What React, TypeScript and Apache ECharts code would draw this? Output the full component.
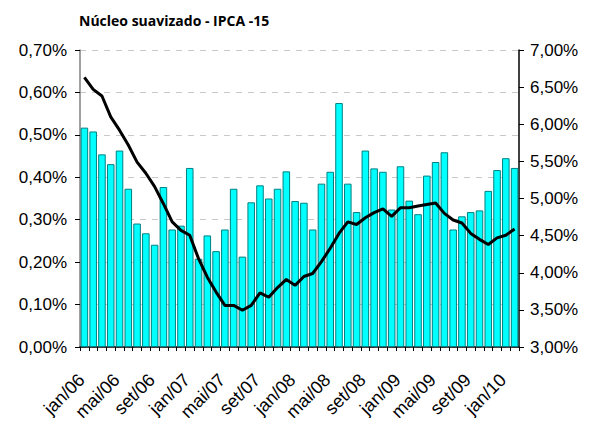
import React, { useEffect, useRef } from "react";
import * as echarts from "echarts";

const monthNames = ["jan", "fev", "mar", "abr", "mai", "jun", "jul", "ago", "set", "out", "nov", "dez"];
const startYear = 2006;
const monthCount = 50;
const categories: string[] = Array.from({ length: monthCount }, (_, i) =>
  `${monthNames[i % 12]}/${String((startYear + Math.floor(i / 12)) % 100).padStart(2, "0")}`
);

const coreMonthly = [
  0.517, 0.508, 0.454, 0.431, 0.463, 0.373, 0.291, 0.268, 0.241, 0.377,
  0.277, 0.286, 0.422, 0.208, 0.263, 0.226, 0.277, 0.373, 0.213, 0.341,
  0.381, 0.350, 0.373, 0.414, 0.344, 0.340, 0.277, 0.385, 0.413, 0.575,
  0.385, 0.318, 0.463, 0.421, 0.413, 0.324, 0.426, 0.345, 0.313, 0.404,
  0.436, 0.459, 0.277, 0.308, 0.318, 0.322, 0.368, 0.417, 0.445, 0.422,
];

const core12m = [
  6.63, 6.47, 6.38, 6.10, 5.92, 5.72, 5.49, 5.34, 5.16, 4.93,
  4.685, 4.57, 4.505, 4.19, 3.94, 3.74, 3.56, 3.56, 3.495, 3.56,
  3.73, 3.67, 3.80, 3.91, 3.83, 3.95, 3.99, 4.15, 4.33, 4.53,
  4.685, 4.65, 4.74, 4.81, 4.86, 4.76, 4.875, 4.875, 4.90, 4.92,
  4.94, 4.80, 4.71, 4.67, 4.53, 4.45, 4.38, 4.47, 4.505, 4.59,
];

const title = "Núcleo suavizado - IPCA -15";

const fmt = (v: number) => v.toFixed(2).replace(".", ",") + "%";

export default function App() {
  const ref = useRef<HTMLDivElement>(null);
  useEffect(() => {
    if (!ref.current) return;
    const chart = echarts.init(ref.current, null, { renderer: "svg" });
    chart.setOption({
      animation: false,
      backgroundColor: "#ffffff",
      title: {
        text: title,
        left: 74,
        top: 8,
        textStyle: { fontFamily: "Open Sans", fontWeight: "bold", fontSize: 14, color: "#000" },
      },
      grid: {
        left: 80,
        right: 72,
        top: 50,
        bottom: 79,
        containLabel: false,
        outerBoundsMode: "none",
      },
      xAxis: {
        type: "category",
        data: categories,
        boundaryGap: true,
        axisLine: { lineStyle: { color: "#000", width: 1.5 } },
        axisTick: { show: true, interval: 0, length: 4, lineStyle: { color: "#000" } },
        axisLabel: {
          interval: 3,
          rotate: 45,
          fontFamily: "Liberation Sans",
          fontSize: 18,
          color: "#000",
          margin: 27,
          padding: [0, 4, 0, 0],
        },
      },
      yAxis: [
        {
          type: "value",
          min: 0,
          max: 0.7,
          interval: 0.1,
          position: "left",
          axisLine: { show: true, lineStyle: { color: "#808080", width: 1.5 } },
          axisTick: { show: true, length: 5, lineStyle: { color: "#000" } },
          splitLine: { show: true, lineStyle: { color: "#c8c8c8", type: [6, 6] } },
          axisLabel: {
            formatter: (v: number) => fmt(v),
            fontFamily: "Liberation Sans",
            fontSize: 17,
            color: "#000",
            margin: 13,
          },
        },
        {
          type: "value",
          min: 3,
          max: 7,
          interval: 0.5,
          position: "right",
          axisLine: { show: true, lineStyle: { color: "#000", width: 1.5 } },
          axisTick: { show: true, length: 5, lineStyle: { color: "#000" } },
          splitLine: { show: false },
          axisLabel: {
            formatter: (v: number) => fmt(v),
            fontFamily: "Liberation Sans",
            fontSize: 17,
            color: "#000",
            margin: 11,
          },
        },
      ],
      series: [
        {
          name: "mensal",
          type: "bar",
          yAxisIndex: 0,
          data: coreMonthly,
          barCategoryGap: "14%",
          itemStyle: { color: "#00ffff", borderColor: "#008080", borderWidth: 1 },
        },
        {
          name: "12 meses",
          type: "line",
          yAxisIndex: 1,
          data: core12m,
          symbol: "none",
          lineStyle: { color: "#000", width: 3 },
          z: 5,
        },
      ],
    });
    return () => chart.dispose();
  }, []);
  return <div ref={ref} style={{ width: 591, height: 426, margin: -8 }} />;
}
